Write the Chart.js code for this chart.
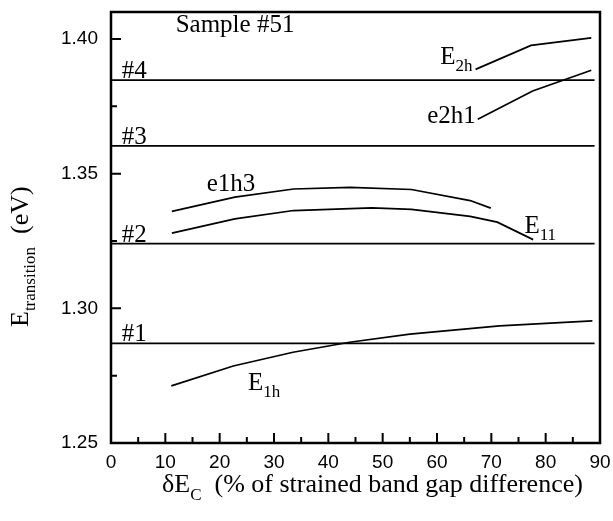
<!DOCTYPE html>
<html><head><meta charset="utf-8">
<script src="https://cdn.jsdelivr.net/npm/chart.js@4.4.0/dist/chart.umd.min.js"></script>
<style>html,body{margin:0;padding:0;background:#fff}#wrap{width:613px;height:521px}</style>
</head><body><div id="wrap"><canvas id="c" width="613" height="521"></canvas></div>
<script>
// ---- data ----
const xTicks = [0,10,20,30,40,50,60,70,80,90];
const xMinorTicks = [5,15,25,35,45,55,65,75,85];
const yTicks = [1.25,1.30,1.35,1.40];
const yMinorTicks = [1.275,1.325,1.375];

const levelNames = ['#1','#2','#3','#4'];
const levelValues = [1.287,1.324,1.3603,1.3847];
const levelSpan = [0,89];

const e1hX = [11.1,22.5,33.5,43.9,55.0,71.5,88.6];
const e1hY = [1.2712,1.2786,1.2837,1.2874,1.2904,1.2935,1.2953];
const e11X = [11.2,22.8,33.6,48.0,55.3,66.1,71.1,77.7];
const e11Y = [1.3279,1.3332,1.3363,1.3373,1.3367,1.3341,1.3320,1.3255];
const e1h3X = [11.2,22.8,33.6,44.0,55.3,66.1,69.9];
const e1h3Y = [1.3360,1.3413,1.3443,1.3449,1.3441,1.3400,1.3372];
const e2h1X = [67.5,77.6,88.4];
const e2h1Y = [1.3702,1.3807,1.3884];
const e2hX = [67.1,77.3,88.4];
const e2hY = [1.3887,1.3976,1.4004];

// ---- build ----
const pts = (xs,ys)=>xs.map((x,i)=>({x:x,y:ys[i]}));
const lineDs = (data,w)=>({data:data,borderColor:'#000',borderWidth:w,pointRadius:0,fill:false,tension:0});
const datasets = [];
levelValues.forEach(v=>datasets.push(lineDs(levelSpan.map(x=>({x:x,y:v})),1.8)));
[[e1hX,e1hY],[e11X,e11Y],[e1h3X,e1h3Y],[e2h1X,e2h1Y],[e2hX,e2hY]].forEach(([a,b])=>datasets.push(lineDs(pts(a,b),1.7)));

const SERIF = '"Liberation Serif","Times New Roman",serif';
const SANS = '"Liberation Sans",Arial,sans-serif';

const textLabels = [
  {t:'Sample #51', x:11.9, y:1.4025},
  {t:'E', sub:'2h', x:60.6, y:1.3906},
  {t:'e2h1', x:58.2, y:1.3689},
  {t:'e1h3', x:17.6, y:1.3434},
  {t:'E', sub:'11', x:76.1, y:1.3278},
  {t:'E', sub:'1h', x:25.2, y:1.2695}
];

function drawSub(ctx,x,y,main,sub,fm,fs,drop){
  ctx.font = fm; ctx.fillText(main,x,y);
  if(sub){ const w=ctx.measureText(main).width; ctx.font=fs; ctx.fillText(sub,x+w,y+drop); }
}

const decor = {
  id:'decor',
  afterDraw(chart){
    const ctx=chart.ctx, a=chart.chartArea, xs=chart.scales.x, ys=chart.scales.y;
    ctx.save();
    ctx.strokeStyle='#000'; ctx.fillStyle='#000';
    // frame
    ctx.lineWidth=2.5;
    ctx.strokeRect(a.left,a.top,a.right-a.left,a.bottom-a.top);
    // inward ticks
    ctx.lineWidth=2;
    ctx.beginPath();
    xTicks.forEach(v=>{ if(v>0&&v<90){const p=xs.getPixelForValue(v); ctx.moveTo(p,a.bottom); ctx.lineTo(p,a.bottom-10);} });
    xMinorTicks.forEach(v=>{const p=xs.getPixelForValue(v); ctx.moveTo(p,a.bottom); ctx.lineTo(p,a.bottom-6);});
    yTicks.forEach(v=>{ if(v>1.25){const p=ys.getPixelForValue(v); ctx.moveTo(a.left,p); ctx.lineTo(a.left+10,p);} });
    yMinorTicks.forEach(v=>{const p=ys.getPixelForValue(v); ctx.moveTo(a.left,p); ctx.lineTo(a.left+6,p);});
    ctx.stroke();
    // texts
    ctx.textBaseline='alphabetic'; ctx.textAlign='left';
    const fm='25px '+SERIF, fs='17px '+SERIF;
    levelNames.forEach((n,i)=>{
      ctx.font=fm; ctx.fillText(n, xs.getPixelForValue(2), ys.getPixelForValue(levelValues[i])-2);
    });
    textLabels.forEach(l=>drawSub(ctx, xs.getPixelForValue(l.x), ys.getPixelForValue(l.y), l.t, l.sub, fm, fs, 7));
    // x title
    const xf='26px '+SERIF, xsf='17px '+SERIF;
    drawSub(ctx, 162, 492, '\u03B4E', 'C', xf, xsf, 8);
    ctx.font=xf; const w0 = ctx.measureText('\u03B4E').width;
    ctx.font=xsf; const w1=ctx.measureText('C').width;
    ctx.font=xf;
    ctx.fillText('  (% of strained band gap difference)', 162+w0+w1, 492);
    // y title
    ctx.translate(28, 327); ctx.rotate(-Math.PI/2);
    ctx.font='26px '+SERIF; ctx.fillText('E',0,0);
    let w=ctx.measureText('E').width;
    ctx.font='17px '+SERIF; ctx.fillText('transition',w,7);
    w+=ctx.measureText('transition').width;
    ctx.font='26px '+SERIF; ctx.fillText('  (eV)',w,0);
    ctx.restore();
  }
};

new Chart(document.getElementById('c'),{
  type:'line',
  data:{datasets:datasets},
  options:{
    responsive:false, animation:false, devicePixelRatio:1,
    layout:{padding:{left:0,right:13,top:12,bottom:0}},
    plugins:{legend:{display:false},tooltip:{enabled:false}},
    scales:{
      x:{type:'linear',min:0,max:90,
        afterBuildTicks:s=>{s.ticks=xTicks.map(v=>({value:v}));},
        afterFit:s=>{s.height=78; s.paddingLeft=0; s.paddingRight=0;},
        grid:{display:false,drawTicks:false},border:{display:false},
        ticks:{color:'#000',font:{family:SANS,size:19},padding:8,maxRotation:0,autoSkip:false}},
      y:{type:'linear',min:1.25,max:1.41,
        afterBuildTicks:s=>{s.ticks=yTicks.map(v=>({value:v}));},
        afterFit:s=>{s.width=111; s.paddingTop=0; s.paddingBottom=0;},
        grid:{display:false,drawTicks:false},border:{display:false},
        ticks:{color:'#000',font:{family:SANS,size:19},padding:13,callback:v=>Number(v).toFixed(2)}}
    }
  },
  plugins:[decor]
});
</script></body></html>
